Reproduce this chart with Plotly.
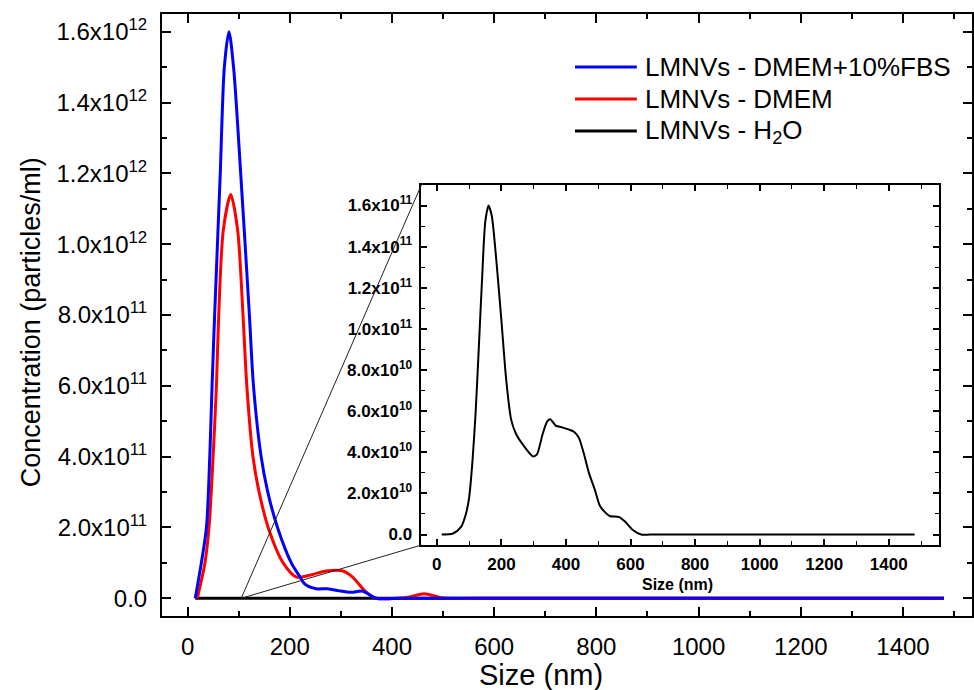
import plotly.graph_objects as go

# ---- Nanoparticle tracking data: size (nm) vs concentration (x1e11 particles/ml) ----
fbs_size = [15, 27, 37, 43.5, 48, 53, 64, 72, 81, 90, 104, 121, 129, 144, 157, 176,
            203, 218, 229, 252, 274, 297, 320, 343, 369, 420, 600, 1000, 1480]
fbs_conc = [0, 1.0, 2.0, 4.0, 6.0, 8.0, 12.0, 15.0, 16.0, 15.0, 12.0, 8.0, 6.0, 4.0,
            3.0, 2.0, 1.0, 0.65, 0.41, 0.27, 0.27, 0.21, 0.17, 0.20, 0, 0, 0, 0, 0]

dmem_size = [19, 34, 42, 50, 56.5, 61, 70, 84.5, 98, 108.5, 116, 128, 140, 160, 187,
             213, 239, 271, 304, 323, 349, 369, 410, 434, 463, 492, 505, 560, 800, 1480]
dmem_conc = [0, 1.0, 2.0, 4.0, 6.0, 8.0, 10.4, 11.4, 10.4, 8.0, 6.0, 4.0, 3.0, 1.9, 1.0,
             0.6, 0.65, 0.77, 0.77, 0.6, 0.18, 0, 0, 0.04, 0.13, 0.03, 0, 0, 0, 0]

h2o_size_main = [15, 1480]
h2o_conc_main = [0, 0]

# inset: H2O sample, concentration in x1e10 particles/ml
h2o_size = [15, 50, 75, 90, 100, 110, 120, 130, 140, 150, 160, 170, 185, 200, 215, 230,
            245, 270, 298, 310, 328, 342, 352, 368, 390, 410, 425, 440, 456, 471, 489,
            505, 520, 535, 565, 583, 606, 633, 660, 700, 900, 1200, 1480]
h2o_conc = [0, 0.05, 0.37, 1.0, 1.8, 3.5, 5.9, 9.1, 12.4, 15.2, 16.0, 15.5, 13.2, 10.4, 7.5, 5.6,
            4.9, 4.3, 3.8, 3.9, 4.9, 5.5, 5.6, 5.3, 5.2, 5.1, 5.0, 4.7, 3.9, 3.0, 2.2,
            1.4, 1.1, 0.9, 0.85, 0.63, 0.23, 0, 0, 0, 0, 0, 0]

legend_labels = ["LMNVs - DMEM+10%FBS", "LMNVs - DMEM", "LMNVs - H<sub>2</sub>O"]
legend_colors = ["#0000ff", "#ff0000", "#000000"]

main_yticks = [0, 2e11, 4e11, 6e11, 8e11, 1e12, 1.2e12, 1.4e12, 1.6e12]
main_yticktext = ["0.0", "2.0x10<sup>11</sup>", "4.0x10<sup>11</sup>", "6.0x10<sup>11</sup>",
                  "8.0x10<sup>11</sup>", "1.0x10<sup>12</sup>", "1.2x10<sup>12</sup>",
                  "1.4x10<sup>12</sup>", "1.6x10<sup>12</sup>"]
inset_yticks = [0, 2e10, 4e10, 6e10, 8e10, 1e11, 1.2e11, 1.4e11, 1.6e11]
inset_yticktext = ["0.0", "2.0x10<sup>10</sup>", "4.0x10<sup>10</sup>", "6.0x10<sup>10</sup>",
                   "8.0x10<sup>10</sup>", "1.0x10<sup>11</sup>", "1.2x10<sup>11</sup>",
                   "1.4x10<sup>11</sup>", "1.6x10<sup>11</sup>"]

# ---- layout constants ----
W, H = 974, 690
ML, MT, MB, MR = 162, 14, 74, 0
MAIN_X = [-50, 1535]
MAIN_Y = [-5e10, 1.65e12]
INSET_X = [-48, 1556]
INSET_Y = [-5.1e9, 1.70e11]
INSET_DOM_X = [0.3202, 0.9594]
INSET_DOM_Y = [0.1179, 0.716]
ZOOM_FROM = 105  # nm, where the zoom guide lines leave the main baseline

FONT = "Liberation Sans, Arial, sans-serif"

fig = go.Figure()

fig.add_trace(go.Scatter(x=h2o_size_main, y=h2o_conc_main, mode="lines",
                         line=dict(color=legend_colors[2], width=3), showlegend=False))
fig.add_trace(go.Scatter(x=dmem_size, y=[v * 1e11 for v in dmem_conc], mode="lines",
                         line=dict(color=legend_colors[1], width=3, shape="spline", smoothing=0.8),
                         showlegend=False))
fig.add_trace(go.Scatter(x=fbs_size, y=[v * 1e11 for v in fbs_conc], mode="lines",
                         line=dict(color=legend_colors[0], width=3, shape="spline", smoothing=0.8),
                         showlegend=False))
fig.add_trace(go.Scatter(x=h2o_size, y=[v * 1e10 for v in h2o_conc], mode="lines",
                         line=dict(color="black", width=2, shape="spline", smoothing=0.7),
                         xaxis="x2", yaxis="y2", showlegend=False))

axis_common = dict(showline=True, linecolor="black", mirror="allticks", ticks="inside",
                   showgrid=False, zeroline=False, tickcolor="black")

fig.update_layout(
    width=W, height=H,
    margin=dict(l=ML, r=MR, t=MT, b=MB, pad=0),
    paper_bgcolor="white", plot_bgcolor="white",
    font=dict(family=FONT, color="black"),
    xaxis=dict(**axis_common, range=MAIN_X, domain=[0, 1], linewidth=2, tickwidth=2, ticklen=9,
               tick0=0, dtick=200, tickfont=dict(size=24), ticklabelstandoff=8,
               minor=dict(ticks="inside", dtick=100, tick0=0, ticklen=5, tickwidth=2,
                          tickcolor="black")),
    yaxis=dict(**axis_common, range=MAIN_Y, domain=[0, 1], linewidth=2, tickwidth=2, ticklen=9,
               tickmode="array", tickvals=main_yticks, ticktext=main_yticktext,
               tickfont=dict(size=24), ticklabelstandoff=8,
               minor=dict(ticks="inside", dtick=1e11, tick0=0, ticklen=5, tickwidth=2,
                          tickcolor="black")),
    xaxis2=dict(**axis_common, range=INSET_X, domain=INSET_DOM_X, anchor="y2", linewidth=1.5,
                tickwidth=1.5, ticklen=6, tick0=0, dtick=200,
                tickfont=dict(size=17, weight="bold"), ticklabelstandoff=3,
                minor=dict(ticks="inside", dtick=100, tick0=0, ticklen=4, tickwidth=1,
                           tickcolor="black")),
    yaxis2=dict(**axis_common, range=INSET_Y, domain=INSET_DOM_Y, anchor="x2", linewidth=1.5,
                tickwidth=1.5, ticklen=6, tickmode="array", tickvals=inset_yticks,
                ticktext=inset_yticktext, tickfont=dict(size=17, weight="bold"),
                ticklabelstandoff=4,
                minor=dict(ticks="inside", dtick=1e10, tick0=0, ticklen=4, tickwidth=1,
                           tickcolor="black")),
)

shapes = []
# inset background
shapes.append(dict(type="rect", xref="paper", yref="paper", layer="below",
                   x0=INSET_DOM_X[0], x1=INSET_DOM_X[1], y0=INSET_DOM_Y[0], y1=INSET_DOM_Y[1],
                   fillcolor="white", line=dict(width=0)))

# zoom guide lines from the main baseline to the inset's left corners
ax = (ZOOM_FROM - MAIN_X[0]) / (MAIN_X[1] - MAIN_X[0])
ay = (0 - MAIN_Y[0]) / (MAIN_Y[1] - MAIN_Y[0])
for cy in INSET_DOM_Y:
    shapes.append(dict(type="line", xref="paper", yref="paper", x0=ax, y0=ay,
                       x1=INSET_DOM_X[0], y1=cy, line=dict(color="#222222", width=1)))

# legend
plot_w = W - ML - MR
plot_h = H - MT - MB
leg_x0, leg_x1, txt_x = 576, 638, 644
leg_rows = [67, 99, 131]
annotations = []
for lab, col, py in zip(legend_labels, legend_colors, leg_rows):
    yp = (H - MB - py) / plot_h
    shapes.append(dict(type="line", xref="paper", yref="paper",
                       x0=(leg_x0 - ML) / plot_w, x1=(leg_x1 - ML) / plot_w, y0=yp, y1=yp,
                       line=dict(color=col, width=3)))
    annotations.append(dict(text=lab, xref="paper", yref="paper", x=(txt_x - ML) / plot_w, y=yp,
                            xanchor="left", yanchor="middle", showarrow=False,
                            font=dict(size=26, family=FONT, color="black")))

# axis titles
annotations.append(dict(text="Size (nm)", xref="paper", yref="paper",
                        x=(542 - ML) / plot_w, y=(H - MB - 675) / plot_h,
                        xanchor="center", yanchor="middle", showarrow=False,
                        font=dict(size=29, family=FONT)))
annotations.append(dict(text="Concentration (particles/ml)", xref="paper", yref="paper",
                        x=(31 - ML) / plot_w, y=(H - MB - 322) / plot_h, textangle=-90,
                        xanchor="center", yanchor="middle", showarrow=False,
                        font=dict(size=27, family=FONT)))
annotations.append(dict(text="Size (nm)", xref="paper", yref="paper",
                        x=(679 - ML) / plot_w, y=(H - MB - 584) / plot_h,
                        xanchor="center", yanchor="middle", showarrow=False,
                        font=dict(size=16, family=FONT, weight="bold")))

fig.update_layout(shapes=shapes, annotations=annotations)

fig.write_html("out.html")
